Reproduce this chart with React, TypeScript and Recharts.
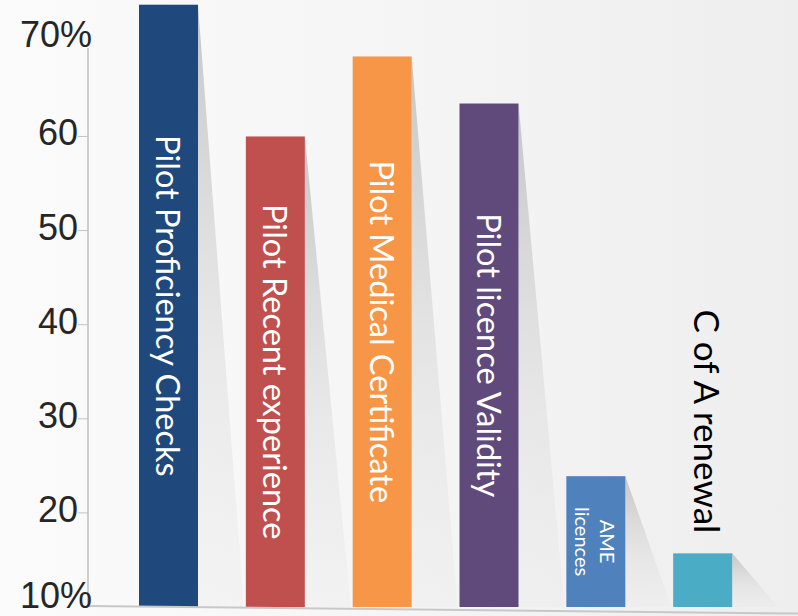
import React from "react";
import { BarChart, Bar, XAxis, YAxis, ReferenceLine } from "recharts";

const categories = [
  "Pilot Proficiency Checks",
  "Pilot Recent experience",
  "Pilot Medical Certificate",
  "Pilot licence Validity",
  "AME licences",
  "C of A renewal",
];
const values = [74.0, 60.0, 68.5, 63.5, 23.9, 15.7];
const labelLines = [
  ["Pilot Proficiency Checks"],
  ["Pilot Recent experience"],
  ["Pilot Medical Certificate"],
  ["Pilot licence Validity"],
  ["AME", "licences"],
  ["C of A renewal"],
];
const yTicks = [10, 20, 30, 40, 50, 60, 70];

const colors = ["#1F497D", "#C0504D", "#F79646", "#604A7B", "#4F81BD", "#4BACC6"];

const data = categories.map((name, i) => ({ name, value: values[i], idx: i }));

const LABEL_FONT = "Lato, 'Open Sans', sans-serif";

function BarShape(props: any) {
  const { x, y, width, height, payload } = props;
  const i = payload?.idx ?? 0;
  const cx = x + width / 2;
  const cy = y + height / 2;
  const lines = labelLines[i];
  const outside = i === 5;
  const multi = lines.length > 1;
  const fs = multi ? 20 : outside ? 35 : 32.5;
  return (
    <g>
      <polygon
        points={`${x + width},${y} ${x + width + 46},${y + height} ${x + width},${y + height}`}
        fill="url(#shadowGrad)"
      />
      <rect x={x} y={y} width={width} height={height} fill={colors[i]} />
      {outside ? (
        <text
          x={cx + 5}
          y={y - 20}
          transform={`rotate(90 ${cx + 5} ${y - 20})`}
          textAnchor="end"
          dominantBaseline="central"
          fill="#000000"
          fontSize={fs}
          fontFamily={LABEL_FONT}
        >
          {lines[0]}
        </text>
      ) : (
        lines.map((t, k) => {
          const off = multi ? (k === 0 ? 12 : -13) : 0;
          const tx = cx + off;
          return (
            <text
              key={k}
              x={tx}
              y={cy}
              transform={`rotate(90 ${tx} ${cy})`}
              textAnchor="middle"
              dominantBaseline="central"
              fill="#ffffff"
              fontSize={fs}
              fontFamily={LABEL_FONT}
            >
              {t}
            </text>
          );
        })
      )}
    </g>
  );
}

function YTick(props: any) {
  const { x, y, payload } = props;
  const v = payload.value;
  const end = v === 70 || v === 10;
  const label = end ? `${v}%` : `${v}`;
  return (
    <g>
      {!end && <line x1={x - 10} y1={y} x2={x} y2={y} stroke="#c4c4c4" strokeWidth={1} />}
      <text
        x={end ? x + 4 : x - 10}
        y={end ? (v === 10 ? y + 1 : y + 4.5) : y + 9}
        textAnchor="end"
        fill="#262626"
        fontSize={36}
        fontFamily="'Liberation Sans', Arial, sans-serif"
      >
        {label}
      </text>
    </g>
  );
}

export default function App() {
  return (
    <div
      style={{
        position: "absolute",
        left: 0,
        top: 0,
        width: 798,
        height: 616,
        background: "linear-gradient(90deg, #fbfbfb 0%, #f5f5f5 50%, #eeeeee 100%)",
      }}
    >
      <BarChart width={798} height={616} data={data} margin={{ top: 0, right: 0, bottom: 9, left: 0 }}>
        <defs>
          <linearGradient id="shadowGrad" x1="0" y1="0" x2="0" y2="1">
            <stop offset="0%" stopColor="#bdbdbd" stopOpacity={0.85} />
            <stop offset="60%" stopColor="#d8d8d8" stopOpacity={0.45} />
            <stop offset="100%" stopColor="#e6e6e6" stopOpacity={0.25} />
          </linearGradient>
        </defs>
        <XAxis dataKey="name" hide padding={{ left: 27, right: 42 }} />
        <XAxis xAxisId="line" type="number" dataKey="none" domain={[0, 1]} allowDataOverflow hide />
        <YAxis
          width={88}
          domain={[10, 74.5]}
          allowDataOverflow
          ticks={yTicks}
          interval={0}
          axisLine={false}
          tickLine={false}
          tickSize={0}
          tickMargin={0}
          tick={<YTick />}
        />
        <Bar dataKey="value" barSize={59} isAnimationActive={false} shape={<BarShape />} />
        <ReferenceLine
          xAxisId="line"
          segment={[
            { x: 0, y: 10 },
            { x: 0, y: 69.4 },
          ]}
          stroke="#bfbfbf"
          strokeWidth={1.5}
          ifOverflow="visible"
        />
        <ReferenceLine
          xAxisId="line"
          segment={[
            { x: 0, y: 10.1 },
            { x: 1, y: 9.3 },
          ]}
          stroke="#c8c8c8"
          strokeWidth={2}
          ifOverflow="visible"
        />
      </BarChart>
    </div>
  );
}
